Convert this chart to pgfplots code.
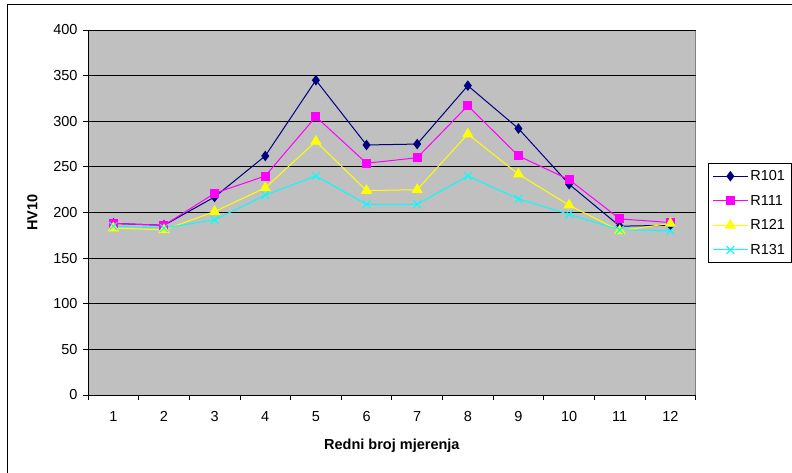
\documentclass[border=0pt]{standalone}
\usepackage{fontspec}
\setmainfont{Liberation Sans}
\usepackage{pgfplots}
\pgfplotsset{compat=1.18}
\definecolor{bggray}{HTML}{C0C0C0}
\definecolor{bordergray}{HTML}{808080}
\definecolor{navyc}{HTML}{000080}
\definecolor{magc}{HTML}{FF00FF}
\definecolor{yelc}{HTML}{FFFF00}
\definecolor{cyac}{HTML}{00FFFF}
\newcommand{\cf}{\fontsize{14.5}{17}\selectfont}
\begin{document}
\begin{tikzpicture}
\path[use as bounding box] (0,0) rectangle (792pt,472pt);
\draw[line width=1pt,black] (7pt,-10pt) -- (7pt,467pt) -- (800pt,467pt);
\begin{axis}[
  at={(88pt,77pt)}, anchor=south west,
  scale only axis, width=607.7pt, height=365pt,
  xmin=0.5, xmax=12.5, ymin=0, ymax=400,
  axis background/.style={fill=bggray, draw=bordergray, line width=1pt},
  axis lines*=left,
  axis line style={black, line width=0.9pt},
  xtick={0.5,1.5,...,12.5},
  x tick label as interval,
  xticklabels={1,2,3,4,5,6,7,8,9,10,11,12},
  ytick={0,50,...,400},
  ymajorgrids,
  major grid style={black, line width=0.8pt},
  tick align=outside,
  major tick length=5pt,
  tick style={black, line width=0.8pt},
  /pgf/number format/assume math mode=true,
  tick label style={font=\cf},
  xticklabel style={yshift=-8pt},
  yticklabel style={xshift=-2pt},
  xlabel={\bfseries Redni broj mjerenja},
  ylabel={\bfseries HV10},
  label style={font=\cf},
  xlabel style={yshift=-10pt},
  ylabel style={yshift=9pt},
  legend style={at={(1.0202,0.6356)}, anchor=north west, font=\cf,
    draw=black, line width=0.8pt, fill=white, inner xsep=4pt, inner ysep=5pt,
    row sep=9pt},
  legend cell align=left,
  legend image code/.code={\draw[mark repeat=2,mark phase=2] plot coordinates {(0pt,0pt) (17.5pt,0pt) (35pt,0pt)};},
  every axis plot/.append style={line width=1pt},
]
\addplot[navyc, mark=diamond*, mark size=4.5pt, mark options={fill=navyc, draw=navyc}] coordinates {
(1,188) (2,186) (3,217) (4,262) (5,345) (6,274) (7,275) (8,339) (9,292) (10,231) (11,185) (12,186)};
\addlegendentry{R101}
\addplot[magc, mark=square*, mark size=4pt, mark options={fill=magc, draw=magc}] coordinates {
(1,188) (2,186) (3,221) (4,240) (5,305) (6,254) (7,260) (8,317) (9,262) (10,236) (11,193) (12,189)};
\addlegendentry{R111}
\addplot[yelc, mark=triangle*, mark size=5.5pt, mark options={fill=yelc, draw=yelc}] coordinates {
(1,183) (2,181) (3,201) (4,227) (5,278) (6,224) (7,225) (8,286) (9,242) (10,208) (11,180) (12,188)};
\addlegendentry{R121}
\addplot[cyac, mark=x, mark size=5.5pt, mark options={draw=cyac, line width=1pt}] coordinates {
(1,185) (2,183) (3,192) (4,219) (5,240) (6,209) (7,209) (8,240) (9,215) (10,198) (11,181) (12,180)};
\addlegendentry{R131}
\end{axis}
\end{tikzpicture}
\end{document}
